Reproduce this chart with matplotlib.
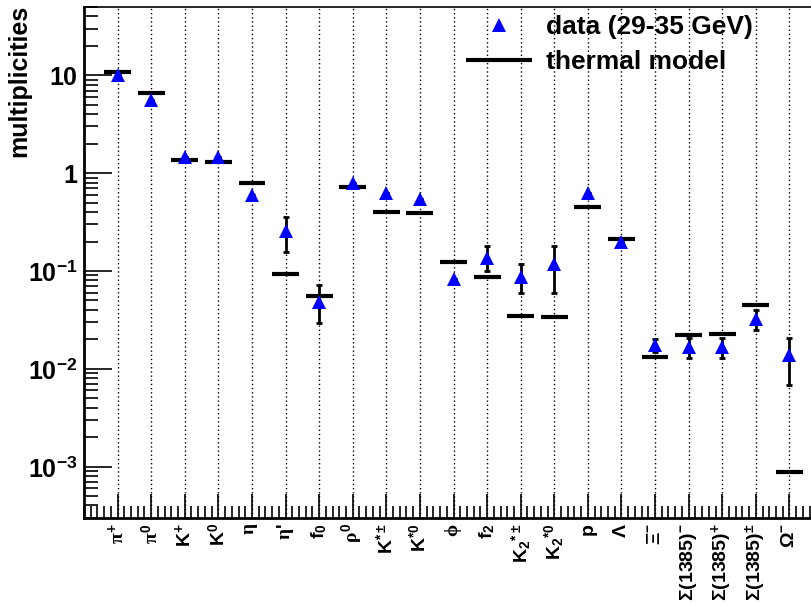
#!/usr/bin/env python3

import matplotlib
matplotlib.use('Agg')
import matplotlib.pyplot as plt
from matplotlib.ticker import FixedLocator, MultipleLocator, LogLocator, NullFormatter

plt.rcParams['font.family'] = ['Liberation Sans', 'DejaVu Sans']
plt.rcParams['font.weight'] = 'bold'
plt.rcParams['mathtext.fontset'] = 'custom'
plt.rcParams['mathtext.rm'] = 'Liberation Sans:bold'
plt.rcParams['mathtext.bf'] = 'Liberation Sans:bold'
plt.rcParams['mathtext.it'] = 'Liberation Serif'

# Hadron species on the x axis
particles = [r'$\mathit{\pi}^{+}$', r'$\mathit{\pi}^{0}$', r'K$^{+}$', r'K$^{0}$',
             r'$\mathit{\eta}$', r"$\mathit{\eta}$'", r'f$_{0}$', r'$\mathit{\rho}^{0}$',
             r'K$^{*\pm}$', r'K$^{*0}$', r'$\mathit{\phi}$', r'f$_{2}$',
             r'K$_{2}$$^{*\pm}$', r'K$_{2}$$^{*0}$', 'p', r'$\mathit{\Lambda}$',
             r'$\mathit{\Xi}^{-}$', r'$\mathit{\Sigma}$(1385)$^{-}$',
             r'$\mathit{\Sigma}$(1385)$^{+}$', r'$\mathit{\Sigma}$(1385)$^{\pm}$',
             r'$\mathit{\Omega}^{-}$']

# Measured multiplicities (29-35 GeV) and their error ranges
data = [10.1, 5.6, 1.47, 1.47, 0.60, 0.254, 0.0478, 0.80, 0.625, 0.548, 0.0826,
        0.137, 0.0867, 0.117, 0.62, 0.196, 0.0173, 0.0166, 0.0166, 0.0323, 0.0137]
data_low = [10.1, 5.6, 1.47, 1.47, 0.60, 0.158, 0.0296, 0.80, 0.625, 0.548, 0.0826,
            0.099, 0.0594, 0.0594, 0.62, 0.196, 0.0148, 0.0129, 0.0129, 0.0247, 0.00687]
data_high = [10.1, 5.6, 1.47, 1.47, 0.60, 0.356, 0.0713, 0.80, 0.625, 0.548, 0.0826,
             0.179, 0.119, 0.179, 0.62, 0.196, 0.0201, 0.0205, 0.0205, 0.0402, 0.0208]

# Thermal model predictions
thermal = [10.8, 6.55, 1.35, 1.29, 0.787, 0.093, 0.0558, 0.721, 0.40, 0.39, 0.123,
           0.0867, 0.0346, 0.0339, 0.45, 0.212, 0.0132, 0.0223, 0.0226, 0.0448, 8.8e-4]

x = list(range(len(particles)))
yerr = [[d - lo for d, lo in zip(data, data_low)],
        [hi - d for d, hi in zip(data, data_high)]]

fig = plt.figure(figsize=(8.11, 6.06), dpi=100)
ax = fig.add_axes([84 / 811, 1 - 517.7 / 606, 739 / 811, 510.7 / 606])

# vertical dotted guide lines at each species
for xi in x:
    ax.axvline(xi, color='black', linestyle=(0, (1, 2)), linewidth=1.0, zorder=1)

ax.hlines(thermal, [xi - 0.4 for xi in x], [xi + 0.4 for xi in x],
          color='black', linewidth=3, zorder=3, label='thermal model')
ax.errorbar(x, data, yerr=yerr, fmt='none', ecolor='black', elinewidth=2,
            capsize=2, capthick=2, zorder=4)
ax.plot(x, data, linestyle='none', marker='^', markersize=10, color='#0000ff',
        markeredgewidth=0, zorder=5, label='data (29-35 GeV)')

ax.set_yscale('log')
ax.set_ylim(3e-4, 50)
ax.set_xlim(-1, 21)

ax.xaxis.set_major_locator(FixedLocator(x))
ax.set_xticklabels(particles, rotation=90, fontsize=14)
ax.xaxis.set_minor_locator(MultipleLocator(0.2))

ax.yaxis.set_major_locator(FixedLocator([1e-3, 1e-2, 1e-1, 1, 10]))
ax.set_yticklabels([r'10$^{-3}$', r'10$^{-2}$', r'10$^{-1}$', '1', '10'], fontsize=18)
ax.yaxis.set_minor_locator(LogLocator(base=10, subs=range(2, 10), numticks=20))
ax.yaxis.set_minor_formatter(NullFormatter())

ax.tick_params(axis='x', which='major', direction='in', length=17, width=1.2, pad=4)
ax.tick_params(axis='x', which='minor', direction='in', length=9, width=1.2)
ax.tick_params(axis='y', which='major', direction='in', length=20, width=1.2, pad=5)
ax.tick_params(axis='y', which='minor', direction='in', length=10, width=1.2)
ax.tick_params(top=False, right=False, which='both')

ax.spines['left'].set_linewidth(2)
ax.spines['bottom'].set_linewidth(2)
ax.spines['top'].set_linewidth(1.2)
ax.spines['right'].set_visible(False)

fig.text(0.0234, 0.992, 'multiplicities', rotation=90, ha='center', va='top',
         fontsize=18, fontweight='bold')

handles, labels = ax.get_legend_handles_labels()
ax.legend(handles[::-1], labels[::-1], loc='upper left',
          bbox_to_anchor=(466 / 811, 1 - 15 / 606), bbox_transform=fig.transFigure,
          frameon=False, fontsize=19, handlelength=2.5, handletextpad=0.55,
          labelspacing=0.42, borderpad=0, borderaxespad=0)

fig.savefig('out.png', dpi=100)
